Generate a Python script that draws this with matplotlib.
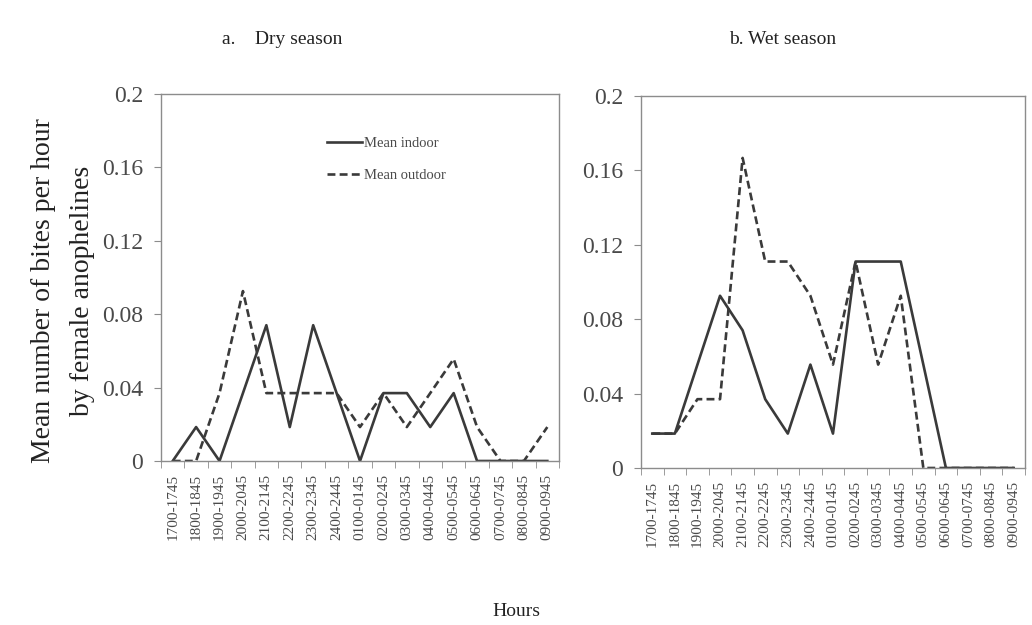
import matplotlib.pyplot as plt
from matplotlib.ticker import FixedLocator, NullFormatter

plt.rcParams['font.family'] = ['Liberation Serif', 'DejaVu Serif']

# Hour intervals
hours = ["1700-1745", "1800-1845", "1900-1945", "2000-2045", "2100-2145",
         "2200-2245", "2300-2345", "2400-2445", "0100-0145", "0200-0245",
         "0300-0345", "0400-0445", "0500-0545", "0600-0645", "0700-0745",
         "0800-0845", "0900-0945"]

# Dry season
dry_indoor = [0, 0.0185, 0, 0.037, 0.074, 0.0185, 0.074, 0.037, 0, 0.037,
              0.037, 0.0185, 0.037, 0, 0, 0, 0]
dry_outdoor = [0, 0, 0.037, 0.0926, 0.037, 0.037, 0.037, 0.037, 0.0185, 0.037,
               0.0185, 0.037, 0.0556, 0.0185, 0, 0, 0.0185]

# Wet season
wet_indoor = [0.0185, 0.0185, 0.0556, 0.0926, 0.074, 0.037, 0.0185, 0.0556,
              0.0185, 0.111, 0.111, 0.111, 0.0556, 0, 0, 0, 0]
wet_outdoor = [0.0185, 0.0185, 0.037, 0.037, 0.1667, 0.111, 0.111, 0.0926,
               0.0556, 0.111, 0.0556, 0.0926, 0, 0, 0, 0, 0]

yticks = [0, 0.04, 0.08, 0.12, 0.16, 0.2]
ytick_labels = ["0", "0.04", "0.08", "0.12", "0.16", "0.2"]

line_color = "#3a3a3a"
spine_color = "#8c8c8c"
text_color = "#4a4a4a"

fig = plt.figure(figsize=(10.32, 6.25), dpi=100)
ax1 = fig.add_axes([0.156, 0.2624, 0.3857, 0.5872])
ax2 = fig.add_axes([0.6211, 0.2512, 0.3721, 0.5952])


def style_axis(ax):
    n = len(hours)
    ax.set_xlim(-0.5, n - 0.5)
    ax.set_ylim(0, 0.2)
    ax.set_yticks(yticks)
    ax.set_yticklabels(ytick_labels)
    ax.set_xticks(range(n))
    ax.set_xticklabels(hours, rotation=90, fontsize=11, color=text_color)
    ax.xaxis.set_minor_locator(FixedLocator([i - 0.5 for i in range(n + 1)]))
    ax.xaxis.set_minor_formatter(NullFormatter())
    ax.tick_params(axis="x", which="major", length=0, pad=9)
    ax.tick_params(axis="x", which="minor", length=5, color=spine_color)
    ax.tick_params(axis="y", length=5, color=spine_color, labelsize=17,
                   labelcolor=text_color, pad=8)
    for s in ax.spines.values():
        s.set_color(spine_color)
        s.set_linewidth(1.0)


ax1.plot(range(len(hours)), dry_indoor, color=line_color, lw=1.9,
         label="Mean indoor")
ax1.plot(range(len(hours)), dry_outdoor, color=line_color, lw=1.9,
         dashes=(3, 1.6), label="Mean outdoor")
style_axis(ax1)
ax1.legend(loc="upper left", bbox_to_anchor=(0.385, 0.92), frameon=False,
           fontsize=10.5, handlelength=2.4, handletextpad=0.1,
           labelspacing=1.3, labelcolor=text_color)

ax2.plot(range(len(hours)), wet_indoor, color=line_color, lw=1.9)
ax2.plot(range(len(hours)), wet_outdoor, color=line_color, lw=1.9,
         dashes=(3, 1.6))
style_axis(ax2)

fig.text(0.273, 0.937, "a.    Dry season", fontsize=14, ha="center",
         va="center", color="#222222")
fig.text(0.758, 0.937, "b. Wet season", fontsize=14, ha="center",
         va="center", color="#222222")
fig.text(0.061, 0.535, "Mean number of bites per hour\nby female anophelines",
         rotation=90, fontsize=20, ha="center", va="center",
         linespacing=1.7, color="#222222")
fig.text(0.5, 0.022, "Hours", fontsize=14, ha="center", va="center",
         color="#222222")

fig.savefig("out.png", dpi=100)
